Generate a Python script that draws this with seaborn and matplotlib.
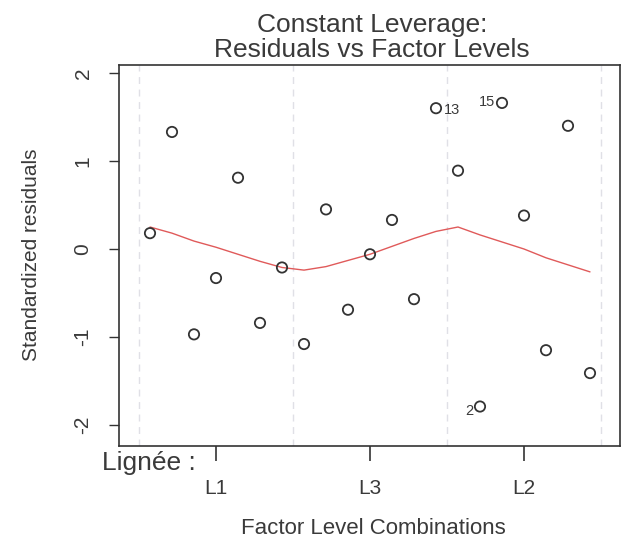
import matplotlib
matplotlib.use("Agg")
import matplotlib.pyplot as plt
import seaborn as sns
import pandas as pd
import numpy as np

# ---- data ----
obs_index = list(range(1, 22))
std_resid = [0.18, 1.33, -0.97, -0.33, 0.81, -0.84, -0.21,
             -1.08, 0.45, -0.69, -0.06, 0.33, -0.57, 1.60,
             0.89, -1.79, 1.66, 0.38, -1.15, 1.40, -1.41]
smooth_fit = [0.25, 0.18, 0.09, 0.02, -0.06, -0.14, -0.21,
              -0.24, -0.20, -0.13, -0.06, 0.03, 0.12, 0.20,
              0.25, 0.16, 0.08, 0.00, -0.10, -0.18, -0.26]
level_names = ["L1", "L3", "L2"]
level_centers = [4, 11, 18]
level_bounds = [0.5, 7.5, 14.5, 21.5]
labelled = {14: "13", 16: "2", 17: "15"}

df = pd.DataFrame({"x": obs_index, "r": std_resid, "s": smooth_fit})

sns.set_theme(style="white")
plt.rcParams["font.family"] = ["Liberation Sans", "DejaVu Sans"]
txt = "#3a3a3a"

L, R, T, B = 119, 620, 65, 446
fig = plt.figure(figsize=(6.24, 5.44), dpi=100)
ax = fig.add_axes([L/624, 1-B/544, (R-L)/624, (B-T)/544])

for b in level_bounds:
    ax.axvline(b, color="#e0e0e6", lw=1.0, ls=(0, (5, 4)), zorder=0)

sns.lineplot(data=df, x="x", y="s", ax=ax, color="#e05a5a", lw=1.0, zorder=2)
sns.scatterplot(data=df, x="x", y="r", ax=ax, marker="o", s=55,
                facecolor="none", edgecolor="#333333", linewidth=1.3, zorder=3)

for i, lab in labelled.items():
    xv, yv = obs_index[i-1], std_resid[i-1]
    if i == 14:
        ax.annotate(lab, (xv, yv), xytext=(6, -1), textcoords="offset points",
                    ha="left", va="center", fontsize=10.5, color=txt)
    elif i == 16:
        ax.annotate(lab, (xv, yv), xytext=(-5, -3), textcoords="offset points",
                    ha="right", va="center", fontsize=10.5, color=txt)
    else:
        ax.annotate(lab, (xv, yv), xytext=(-5, 1), textcoords="offset points",
                    ha="right", va="center", fontsize=10.5, color=txt)

x0 = 1 - (150 - L) / 22.0
x1 = 1 + (R - 150) / 22.0
ax.set_xlim(x0, x1)
ax.set_ylim(-(B - 249) / 88.0, (249 - T) / 88.0)
ax.set_yticks([-2, -1, 0, 1, 2])
ax.set_yticklabels(["-2", "-1", "0", "1", "2"], rotation=90, va="center",
                   fontsize=15, color=txt)
ax.set_xticks(level_centers)
ax.set_xticklabels(level_names, fontsize=15, color=txt)
ax.tick_params(axis="y", direction="out", length=7, width=1.0, color="#333333", pad=12)
ax.tick_params(axis="x", direction="out", length=11, width=1.2, color="#333333", pad=13)
ax.tick_params(left=True, bottom=True)
for sp in ax.spines.values():
    sp.set_visible(True)
    sp.set_color("#333333")
    sp.set_linewidth(1.2)

ax.set_xlabel("")
ax.set_ylabel("")
fig.text(32/624, 1-255/544, "Standardized residuals", rotation=90, ha="center",
         va="center", fontsize=15, color=txt)
fig.text(373/624, 1-528/544, "Factor Level Combinations", ha="center", va="center",
         fontsize=16, color=txt)
fig.text(102/624, 1-463/544, "Lignée :", ha="left", va="center", fontsize=19, color=txt)
fig.text(372/624, 1-32/544, "Constant Leverage:", ha="center", va="baseline",
         fontsize=19, color=txt)
fig.text(372/624, 1-57/544, "Residuals vs Factor Levels", ha="center", va="baseline",
         fontsize=19, color=txt)

fig.savefig("out.png", dpi=100, facecolor="white")
